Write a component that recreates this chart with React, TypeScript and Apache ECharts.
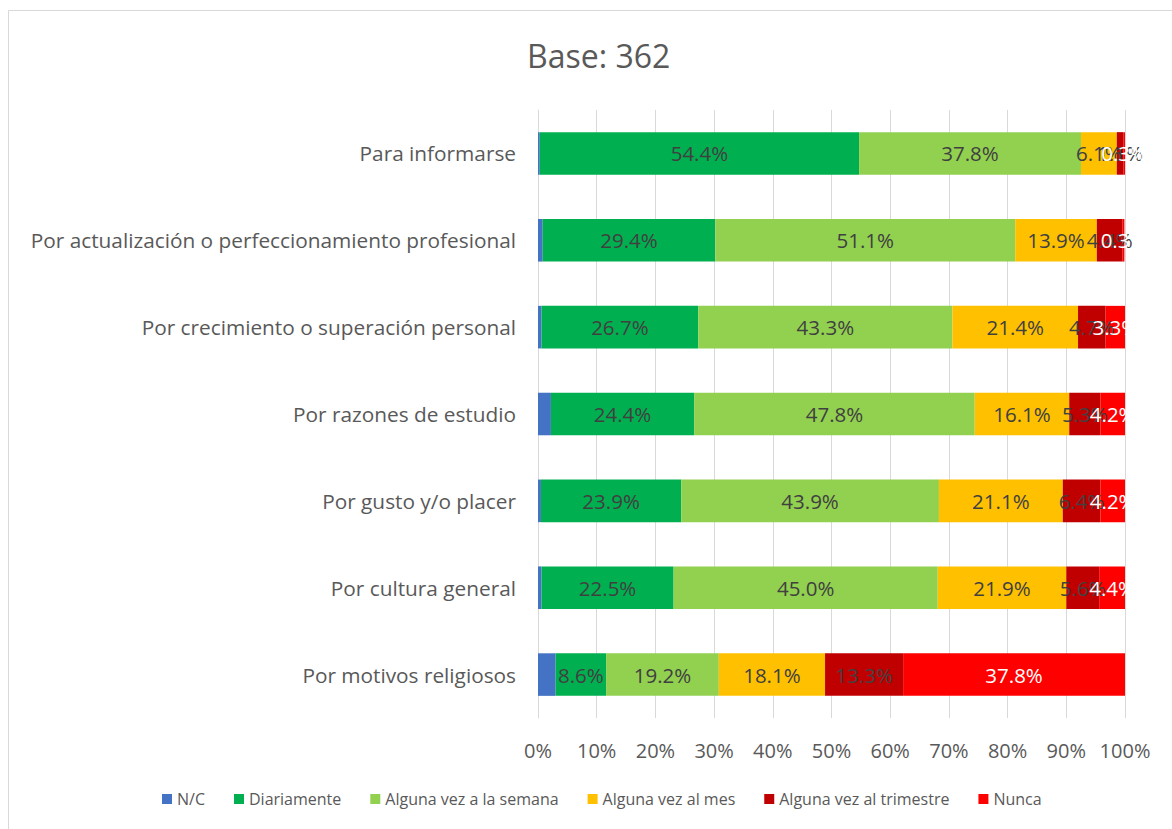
import React, { useEffect, useRef } from "react";
import * as echarts from "echarts";

const categories = [
  "Para informarse",
  "Por actualización o perfeccionamiento profesional",
  "Por crecimiento o superación personal",
  "Por razones de estudio",
  "Por gusto y/o placer",
  "Por cultura general",
  "Por motivos religiosos",
];

const seriesNames = [
  "N/C",
  "Diariamente",
  "Alguna vez a la semana",
  "Alguna vez al mes",
  "Alguna vez al trimestre",
  "Nunca",
];

const nc = [0.3, 0.8, 0.6, 2.2, 0.5, 0.6, 3.0];
const diariamente = [54.4, 29.4, 26.7, 24.4, 23.9, 22.5, 8.6];
const semana = [37.8, 51.1, 43.3, 47.8, 43.9, 45.0, 19.2];
const mes = [6.1, 13.9, 21.4, 16.1, 21.1, 21.9, 18.1];
const trimestre = [1.1, 4.4, 4.7, 5.3, 6.4, 5.6, 13.3];
const nunca = [0.3, 0.3, 3.3, 4.2, 4.2, 4.4, 37.8];

const xTicks = [0, 10, 20, 30, 40, 50, 60, 70, 80, 90, 100];

const colors = ["#4472C4", "#00B050", "#92D050", "#FFC000", "#C00000", "#FF0000"];
const labelColors = ["#404040", "#404040", "#404040", "#404040", "#404040", "#FFFFFF"];
const showLabel = [false, true, true, true, true, true];

const FONT = "'Open Sans', sans-serif";

export default function App() {
  const ref = useRef<HTMLDivElement>(null);
  useEffect(() => {
    document.body.style.margin = "0";
    const chart = echarts.init(ref.current!, undefined, { renderer: "svg" });
    const values = [nc, diariamente, semana, mes, trimestre, nunca];
    chart.setOption({
      animation: false,
      textStyle: { fontFamily: FONT },
      title: {
        text: "Base: 362",
        left: 522,
        top: 34,
        textStyle: { fontFamily: FONT, fontSize: 32, fontWeight: "normal", color: "#595959" },
      },
      graphic: [
        { type: "line", shape: { x1: 8.5, y1: 10.5, x2: 1172, y2: 10.5 }, style: { stroke: "#d9d9d9", lineWidth: 1 } },
        { type: "line", shape: { x1: 8.5, y1: 10.5, x2: 8.5, y2: 829 }, style: { stroke: "#d9d9d9", lineWidth: 1 } },
      ],
      legend: {
        bottom: 17,
        left: 157,
        itemWidth: 10,
        itemHeight: 10,
        itemGap: 29,
        icon: "rect",
        textStyle: { fontFamily: FONT, fontSize: 16, color: "#595959" },
        data: seriesNames,
      },
      grid: { left: 538, right: 47, top: 110, bottom: 111 },
      xAxis: {
        type: "value",
        min: 0,
        max: 100,
        interval: 10,
        axisLabel: {
          formatter: (v: number) => (xTicks.includes(v) ? v + "%" : ""),
          fontFamily: FONT,
          fontSize: 20,
          color: "#595959",
          margin: 22,
        },
        splitLine: { show: true, lineStyle: { color: "#d9d9d9", width: 1 } },
        axisLine: { show: false },
        axisTick: { show: false },
      },
      yAxis: {
        type: "category",
        inverse: true,
        data: categories,
        axisLabel: { fontFamily: FONT, fontSize: 20.8, color: "#595959", margin: 22 },
        axisLine: { show: true, lineStyle: { color: "#d9d9d9", width: 1 } },
        axisTick: { show: false },
      },
      series: seriesNames.map((name, i) => ({
        name,
        type: "bar",
        stack: "total",
        barWidth: "49%",
        data: values[i],
        itemStyle: { color: colors[i] },
        label: {
          show: showLabel[i],
          position: "inside",
          formatter: (p: any) => p.value.toFixed(1) + "%",
          fontFamily: FONT,
          fontSize: 20.5,
          color: labelColors[i],
        },
        labelLayout: { hideOverlap: false },
      })),
    });
    return () => chart.dispose();
  }, []);
  return <div ref={ref} style={{ width: 1172, height: 829 }} />;
}
